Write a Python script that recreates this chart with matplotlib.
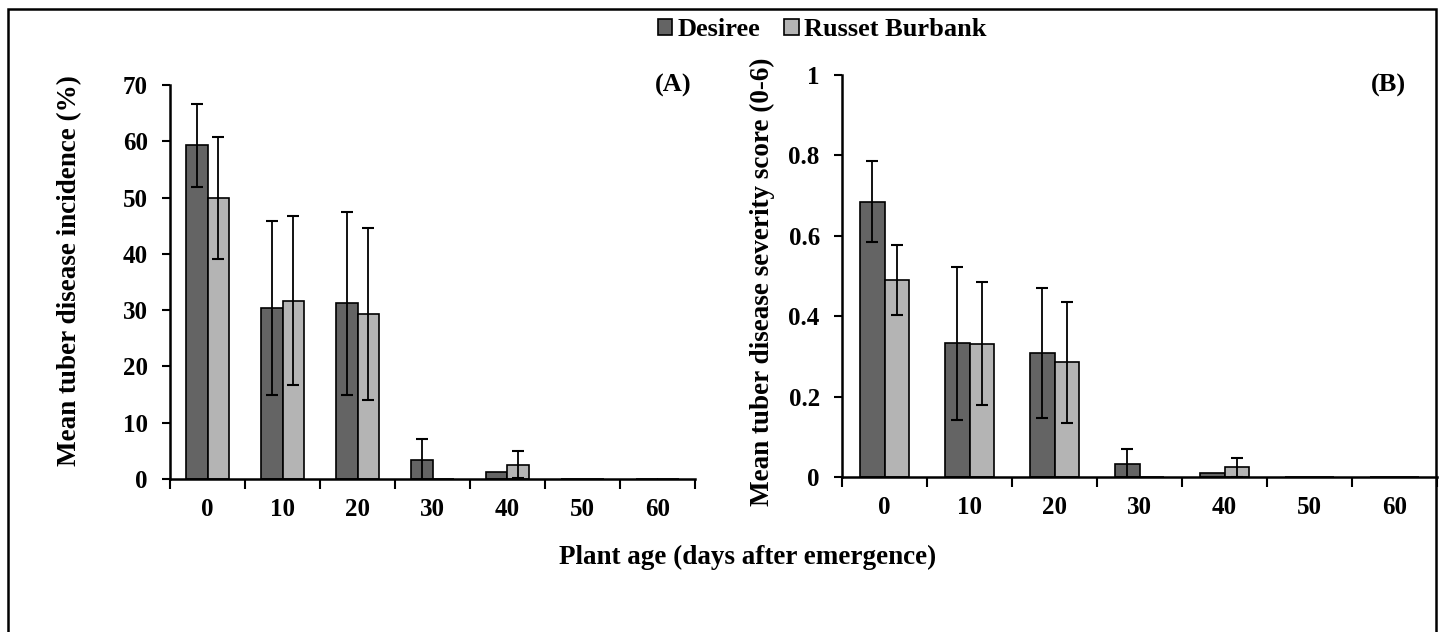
import matplotlib
matplotlib.use("Agg")
import matplotlib.pyplot as plt
import numpy as np
from matplotlib.patches import Rectangle

categories = ["0", "10", "20", "30", "40", "50", "60"]
series_names = ["Desiree", "Russet Burbank"]

inc_desiree = [59.3, 30.4, 31.2, 3.3, 1.3, 0, 0]
inc_desiree_err = [7.4, 15.5, 16.3, 3.8, 0, 0, 0]
inc_russet = [49.9, 31.7, 29.3, 0, 2.5, 0, 0]
inc_russet_err = [10.9, 15.0, 15.3, 0, 2.4, 0, 0]

sev_desiree = [0.685, 0.333, 0.309, 0.033, 0.010, 0, 0]
sev_desiree_err = [0.100, 0.190, 0.162, 0.037, 0, 0, 0]
sev_russet = [0.490, 0.331, 0.285, 0, 0.024, 0, 0]
sev_russet_err = [0.088, 0.153, 0.151, 0, 0.023, 0, 0]

c_dark = "#646464"
c_light = "#b4b4b4"

plt.rcParams["font.family"] = ["Liberation Serif", "DejaVu Serif"]
plt.rcParams["font.weight"] = "bold"

W, H = 1440, 632
fig = plt.figure(figsize=(W / 100, H / 100), dpi=100)

def fx(px):
    return px / W

def fy(py):
    return 1 - py / H

axA = fig.add_axes([fx(170), fy(479), fx(695 - 170), fy(85) - fy(479)])
axB = fig.add_axes([fx(842), fy(477), fx(1437 - 842), fy(75) - fy(477)])

bw = 0.29
x = np.arange(len(categories))

def draw(ax, d, de, r, re, ymax, yticks, ylabels, ylabel, panel, panel_xy, ylab_xy):
    bd = ax.bar(x - bw / 2, d, bw, color=c_dark, edgecolor="black", linewidth=1.2,
                label=series_names[0], zorder=2)
    br = ax.bar(x + bw / 2, r, bw, color=c_light, edgecolor="black", linewidth=1.2,
                label=series_names[1], zorder=2)
    for xs, vals, errs in ((x - bw / 2, d, de), (x + bw / 2, r, re)):
        for xi, v, e in zip(xs, vals, errs):
            if e > 0:
                ax.errorbar([xi], [v], yerr=[[e], [e]],
                            fmt="none", ecolor="black", elinewidth=1.3,
                            capsize=4, capthick=1.5, zorder=3)
    ax.set_xlim(-0.5, len(categories) - 0.5)
    ax.set_ylim(0, ymax)
    ax.set_yticks(yticks)
    ax.set_yticklabels(ylabels)
    ax.set_xticks(x)
    ax.set_xticklabels(categories)
    ax.set_xticks(np.arange(len(categories) + 1) - 0.5, minor=True)
    ax.tick_params(axis="x", which="major", length=0, pad=14, labelsize=18)
    ax.tick_params(axis="x", which="minor", length=7, width=1.5, direction="out")
    ax.tick_params(axis="y", length=6, width=1.5, direction="out", pad=10, labelsize=18)
    for lab in ax.get_xticklabels() + ax.get_yticklabels():
        lab.set_fontweight("bold")
    for s in ("top", "right"):
        ax.spines[s].set_visible(False)
    for s in ("left", "bottom"):
        ax.spines[s].set_linewidth(1.8)
    ax.set_ylabel(ylabel, fontsize=19.5, fontweight="bold")
    ax.yaxis.set_label_coords(*ylab_xy)
    ax.text(panel_xy[0], panel_xy[1], panel, transform=ax.transAxes, ha="right",
            va="center", fontsize=19, fontweight="bold")
    return bd, br

bd, br = draw(axA, inc_desiree, inc_desiree_err, inc_russet, inc_russet_err,
              70, [0, 10, 20, 30, 40, 50, 60, 70],
              ["0", "10", "20", "30", "40", "50", "60", "70"],
              "Mean tuber disease incidence (%)", "(A)", (0.994, 1.0), (-0.168, 0.528))
draw(axB, sev_desiree, sev_desiree_err, sev_russet, sev_russet_err,
     1, [0, 0.2, 0.4, 0.6, 0.8, 1.0], ["0", "0.2", "0.4", "0.6", "0.8", "1"],
     "Mean tuber disease severity score (0-6)", "(B)", (0.948, 0.975), (-0.113, 0.485))

fig.legend([bd, br], series_names, loc="center", bbox_to_anchor=(fx(822), fy(30)),
           ncol=2, frameon=False, prop={"size": 19, "weight": "bold"},
           handlelength=0.55, handleheight=0.55, handletextpad=0.2, columnspacing=0.9)

fig.text(fx(748), fy(557), "Plant age (days after emergence)", ha="center", va="center",
         fontsize=19.5, fontweight="bold")

fig.patches.append(Rectangle((fx(8), -0.05), fx(1436 - 8), fy(9) + 0.05,
                             transform=fig.transFigure, fill=False,
                             edgecolor="black", linewidth=1.8, zorder=10))

fig.savefig("out.png", dpi=100)
